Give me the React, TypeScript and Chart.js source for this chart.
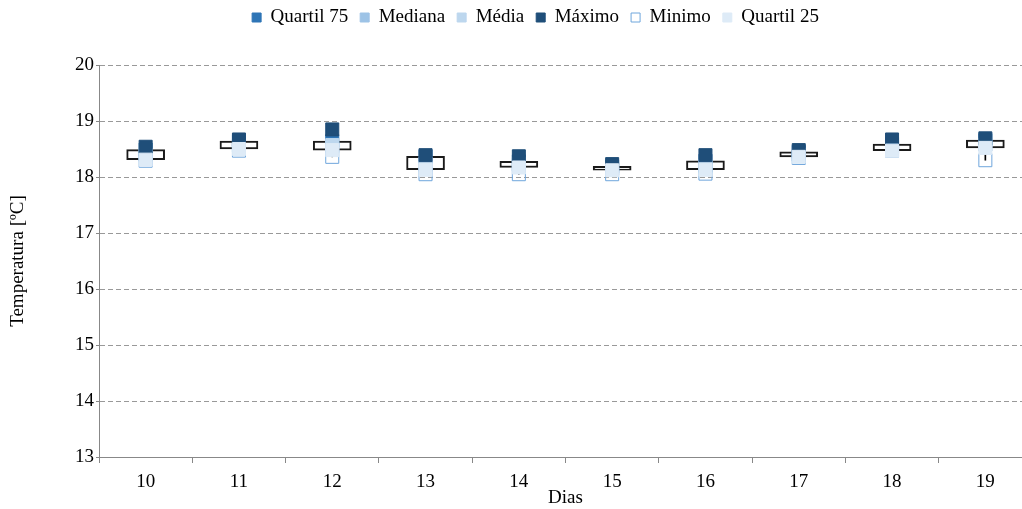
import React, { useEffect, useRef } from "react";
import { Chart, registerables } from "chart.js";

Chart.register(...registerables);

// ---- Data ----
const dias = ["10", "11", "12", "13", "14", "15", "16", "17", "18", "19"];
const quartil75 = [18.49, 18.64, 18.64, 18.37, 18.28, 18.19, 18.29, 18.45, 18.59, 18.66];
const mediana = [18.40, 18.56, 18.55, 18.22, 18.22, 18.15, 18.2, 18.4, 18.53, 18.58];
const media = [18.40, 18.56, 18.57, 18.24, 18.23, 18.15, 18.2, 18.4, 18.53, 18.58];
const maximo = [18.54, 18.67, 18.85, 18.39, 18.37, 18.23, 18.39, 18.48, 18.67, 18.69];
const minimo = [18.29, 18.47, 18.36, 18.05, 18.05, 18.05, 18.06, 18.34, 18.47, 18.30];
const quartil25 = [18.31, 18.50, 18.48, 18.13, 18.17, 18.12, 18.13, 18.36, 18.47, 18.52];

const yMin = 13;
const yMax = 20;

const FONT = "'Liberation Serif', 'Times New Roman', serif";

export default function App() {
  const ref = useRef<HTMLCanvasElement>(null);

  useEffect(() => {
    const canvas = ref.current;
    if (!canvas) return;

    const marker = (label: string, data: number[], color: string, order: number, hollow = false) => ({
      type: "line" as const,
      label,
      data,
      order,
      showLine: false,
      pointStyle: "rect",
      pointRadius: 9.2,
      pointHoverRadius: 9.2,
      pointBorderWidth: 1,
      borderWidth: 1,
      backgroundColor: hollow ? "rgba(255,255,255,0)" : color,
      borderColor: color,
      pointBackgroundColor: hollow ? "rgba(255,255,255,0)" : color,
      pointBorderColor: color,
    });

    const layoutTweak = {
      id: "layoutTweak",
      beforeInit(chart: any) {
        const l = chart.legend;
        if (l) {
          const orig = l.fit;
          l.fit = function () {
            orig.call(this);
            this.height = 65;
          };
        }
      },
      afterLayout(chart: any) {
        const l = chart.legend;
        if (l) {
          l.left += 16;
          l.right += 16;
          l.top -= 4;
          l.bottom -= 4;
        }
      },
    };

    const chart = new Chart(canvas, {
      type: "bar",
      data: {
        labels: dias,
        datasets: [
          marker("Quartil 75", quartil75, "#2e75b6", 6),
          marker("Mediana", mediana, "#9dc3e6", 5),
          marker("Média", media, "#bdd7ee", 4),
          marker("Máximo", maximo, "#1f4e79", 3),
          marker("Minimo", minimo, "#6fa6dc", 2, true),
          marker("Quartil 25", quartil25, "#deebf7", 1),
          {
            type: "bar" as const,
            label: "box",
            data: dias.map((_, i) => [quartil25[i], quartil75[i]]),
            backgroundColor: "#ffffff",
            borderColor: "#1a1a1a",
            borderWidth: 2,
            borderSkipped: false,
            barThickness: 38,
            grouped: false,
            order: 7,
          },
          {
            type: "bar" as const,
            label: "hilo",
            data: dias.map((_, i) => [minimo[i], maximo[i]]),
            backgroundColor: "#000000",
            borderWidth: 0,
            barThickness: 1,
            grouped: false,
            order: 8,
          },
        ] as any,
      },
      options: {
        responsive: false,
        animation: false,
        events: [],
        layout: { padding: { left: 7, right: 40, top: 0, bottom: 1 } },
        plugins: {
          tooltip: { enabled: false },
          legend: {
            position: "top",
            labels: {
              boxWidth: 9,
              boxHeight: 9,
              padding: 12,
              color: "#000",
              font: { family: FONT, size: 19 },
              filter: (item: any) => item.datasetIndex < 6,
              sort: (a: any, b: any) => a.datasetIndex - b.datasetIndex,
            },
          },
        },
        scales: {
          x: {
            grid: {
              display: true,
              drawOnChartArea: false,
              drawTicks: true,
              tickLength: 6,
              color: "#888",
              tickColor: "#888",
              offset: true,
            },
            border: { color: "#888", width: 1 },
            ticks: { color: "#000", font: { family: FONT, size: 19, lineHeight: 1 }, padding: 10 },
            title: {
              display: true,
              text: "Dias",
              color: "#000",
              font: { family: FONT, size: 19, lineHeight: 1 },
              padding: { top: -13, bottom: 0 },
            },
          },
          y: {
            min: yMin,
            max: yMax,
            ticks: { stepSize: 1, color: "#000", font: { family: FONT, size: 19 }, padding: 2 },
            grid: {
              color: "#999",
              lineWidth: 1,
              tickLength: 3,
              tickColor: "#888",
              tickBorderDash: [],
            },
            border: { color: "#888", width: 1, dash: [5, 3] },
            title: {
              display: true,
              text: "Temperatura [ºC]",
              color: "#000",
              font: { family: FONT, size: 19, lineHeight: 1.2 },
              padding: { top: 0, bottom: 0 },
            },
            afterFit: (scale: any) => {
              scale.width = 92;
            },
          },
        },
      } as any,
      plugins: [layoutTweak],
    });

    return () => chart.destroy();
  }, []);

  return (
    <div
      style={{
        position: "fixed",
        left: 0,
        top: 0,
        width: 1022,
        height: 509,
        overflow: "hidden",
        background: "#fff",
      }}
    >
      <canvas ref={ref} width={1072} height={509} style={{ display: "block" }} />
    </div>
  );
}
